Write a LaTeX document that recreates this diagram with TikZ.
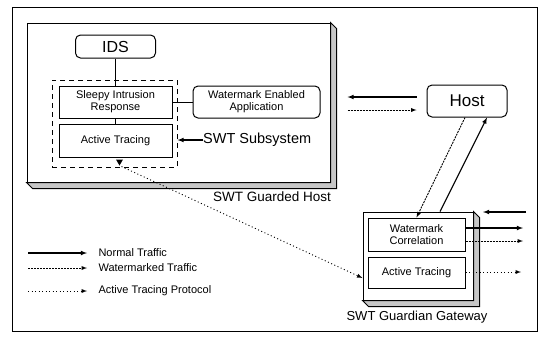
\documentclass[tikz,border=0pt]{standalone}
\usepackage{fontspec}
\setmainfont{Liberation Sans}
\usetikzlibrary{arrows,calc}
\tikzset{box/.style={draw,line width=1pt,fill=white,inner sep=1pt,align=center,font=\fontsize{11}{12}\selectfont},
         rbox/.style={box,rounded corners=5pt},
         depth/.style={draw,line width=1pt,fill=gray!45},
         normal/.style={-latex,line width=1.1pt},
         wmark/.style={-latex,line width=0.9pt,dash pattern=on 2pt off 1pt},
         trace/.style={-latex,line width=0.9pt,dash pattern=on 1pt off 2.5pt}}

\begin{document}
\begin{tikzpicture}[x=1pt,y=-1pt]
   \useasboundingbox (0,0) rectangle (540,341);
   \draw[line width=1pt] (12,7) rectangle (537,331);

   % guarded host
   \node[box,minimum width=303pt,minimum height=159pt] (gh) at (178.5,102.5) {};
   \filldraw[depth] (gh.north east) -- ++(6,6) -- ($(gh.south east)+(6,6)$) -- ($(gh.south west)+(6,6)$) -- (gh.south west) -- (gh.south east) -- cycle;
   \node[font=\fontsize{13.5}{14}\selectfont] (ghlbl) at (272,197) {SWT Guarded Host};

   \node[draw,line width=1pt,dash pattern=on 5pt off 4pt,minimum width=125pt,minimum height=87pt] (swt) at (114.5,123.5) {};
   \node[rbox,minimum width=80pt,minimum height=23pt,font=\fontsize{16}{16}\selectfont] (ids) at (115.5,46.5) {IDS};
   \node[box,minimum width=113pt,minimum height=32pt] (sir) at (115.5,102) {Sleepy Intrusion\\Response};
   \node[box,minimum width=113pt,minimum height=33pt] (at) at (115.5,140.5) {Active Tracing};
   \node[rbox,minimum width=127pt,minimum height=32pt] (wea) at (256.5,102) {Watermark Enabled\\Application};
   \draw[line width=1pt] (ids) -- (sir);
   \draw[line width=1pt] (sir) -- (at);
   \draw[line width=1pt] (sir) -- (wea);

   \node[anchor=west,inner sep=0pt,font=\fontsize{14.5}{15}\selectfont] (sublbl) at (203,140) {SWT Subsystem};
   \draw[normal] (sublbl.west) -- (sublbl.west -| swt.east);

   % host
   \node[rbox,minimum width=80pt,minimum height=32pt,font=\fontsize{17}{17}\selectfont] (host) at (467,101) {Host};
   \draw[normal,shorten <=10pt,shorten >=27pt] ([yshift=4pt]host.west) -- ([yshift=5pt]wea.east);
   \draw[wmark,shorten <=27pt,shorten >=10pt] ([yshift=-8pt]wea.east) -- ([yshift=-9pt]host.west);

   % gateway
   \node[box,minimum width=110pt,minimum height=88pt] (gw) at (418,256) {};
   \filldraw[depth] (gw.north east) -- ++(6,6) -- ($(gw.south east)+(6,6)$) -- ($(gw.south west)+(6,6)$) -- (gw.south west) -- (gw.south east) -- cycle;
   \node[box,minimum width=97pt,minimum height=33pt] (wc) at (416.5,234.5) {Watermark\\Correlation};
   \node[box,minimum width=97pt,minimum height=31pt] (at2) at (416.5,272.5) {Active Tracing};
   \node[font=\fontsize{13}{14}\selectfont] (gwlbl) at (417,317) {SWT Guardian Gateway};

   \draw[normal] ([xshift=22pt]gw.north) -- ([xshift=20pt]host.south);
   \draw[wmark] ([xshift=-2pt]host.south) -- (wc.north);

   \coordinate (r0) at (526,212);
   \coordinate (r0e) at (483,212);
   \coordinate (r1) at (523,228);
   \coordinate (r2) at (523,241);
   \coordinate (r3) at (521,272);
   \draw[normal] (r0) -- (r0e);
   \draw[normal] (wc.east |- r1) -- (r1);
   \draw[wmark] (wc.east |- r2) -- (r2);
   \draw[trace] (at2.east |- r3) -- (r3);

   % tracing path
   \fill ([xshift=4pt]at.south) ++(-3.5,2) -- ++(7,0) -- ++(-3.5,6) -- cycle;
   \draw[trace] ([xshift=6pt,yshift=-9pt]at.south) -- ([yshift=-22pt]gw.west);

   % legend
   \foreach \y/\s/\t in {253/normal/Normal Traffic,268/wmark/Watermarked Traffic,291/trace/Active Tracing Protocol}{
     \coordinate (ls\y) at (28,\y);
     \node[anchor=west,font=\fontsize{11}{12}\selectfont] (lg\y) at (95,\y) {\t};
     \draw[\s,shorten >=8pt] (ls\y) -- (lg\y.west);
   }
\end{tikzpicture}
\end{document}
